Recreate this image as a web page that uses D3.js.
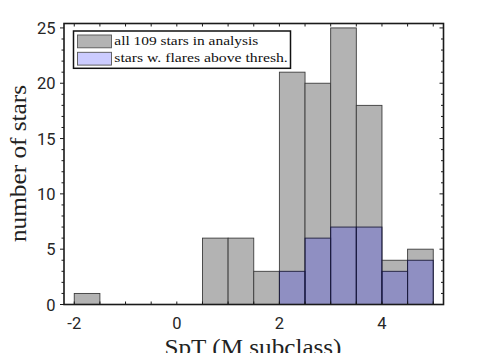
<!DOCTYPE html>
<html>
<head>
<meta charset="utf-8">
<script src="https://cdn.jsdelivr.net/npm/d3@7"></script>
<style>
  html, body { margin: 0; padding: 0; background: #fff; }
  svg { display: block; }
</style>
</head>
<body>
<svg id="chart" width="491" height="353"></svg>
<script>
// ---- data ----
const binStarts = [-2, -1.5, -1, -0.5, 0, 0.5, 1, 1.5, 2, 2.5, 3, 3.5, 4, 4.5];
const binWidth = 0.5;
const allCounts = [1, 0, 0, 0, 0, 6, 6, 3, 21, 20, 25, 18, 4, 5];
const flareCounts = [0, 0, 0, 0, 0, 0, 0, 0, 3, 6, 7, 7, 3, 4];
const xTickLabels = [-2, 0, 2, 4];
const yTickLabels = [0, 5, 10, 15, 20, 25];
const legendLabels = ["all 109 stars in analysis", "stars w. flares above thresh."];
const xLabel = "SpT (M subclass)";
const yLabel = "number of stars";

// ---- layout ----
const L = 64, R = 443.5, T = 23.5, B = 304.5;
const svg = d3.select("#chart");
const x = d3.scaleLinear().domain([-2.2, 5.2]).range([L, R]);
const y = d3.scaleLinear().domain([0, 25.4]).range([B, T]);

const allData = binStarts.map((s, i) => ({ s, v: allCounts[i] }));
const flareData = binStarts.map((s, i) => ({ s, v: flareCounts[i] }));

// gray bars
svg.append("g").selectAll("rect").data(allData.filter(d => d.v > 0)).join("rect")
  .attr("x", d => x(d.s))
  .attr("width", d => x(d.s + binWidth) - x(d.s))
  .attr("y", d => y(d.v))
  .attr("height", d => y(0) - y(d.v))
  .attr("fill", "#b3b3b3")
  .attr("stroke", "#3c3c3c")
  .attr("stroke-width", 0.9);

// blue bars (translucent)
svg.append("g").selectAll("rect").data(flareData.filter(d => d.v > 0)).join("rect")
  .attr("x", d => x(d.s))
  .attr("width", d => x(d.s + binWidth) - x(d.s))
  .attr("y", d => y(d.v))
  .attr("height", d => y(0) - y(d.v))
  .attr("fill", "rgb(0,0,255)")
  .attr("fill-opacity", 0.2)
  .attr("stroke", "#1c1c3c")
  .attr("stroke-width", 0.9);

// ---- axes box ----
const axisColor = "#1a1a1a";
const xTicksAll = d3.range(-2, 5.01, 0.5);
const yTicksAll = d3.range(0, 25.01, 1);
const tk = svg.append("g").attr("stroke", axisColor).attr("stroke-width", 1);
// bottom & top ticks (inward)
xTicksAll.forEach(v => {
  tk.append("line").attr("x1", x(v)).attr("x2", x(v)).attr("y1", B).attr("y2", B - 3);
  tk.append("line").attr("x1", x(v)).attr("x2", x(v)).attr("y1", T).attr("y2", T + 3);
});
// left ticks (outward) & right ticks (inward)
yTicksAll.forEach(v => {
  const major = v % 5 === 0;
  const len = major ? 4 : 2.5;
  tk.append("line").attr("x1", L - len).attr("x2", L).attr("y1", y(v)).attr("y2", y(v));
  tk.append("line").attr("x1", R - len).attr("x2", R).attr("y1", y(v)).attr("y2", y(v));
});

svg.append("rect")
  .attr("x", L).attr("y", T).attr("width", R - L).attr("height", B - T)
  .attr("fill", "none").attr("stroke", axisColor).attr("stroke-width", 1.6);

// tick labels
svg.append("g").selectAll("text").data(xTickLabels).join("text")
  .attr("x", d => x(d)).attr("y", 328.5)
  .attr("text-anchor", "middle")
  .attr("font-family", "Roboto, 'Noto Sans', sans-serif")
  .attr("font-size", 16.5).attr("fill", "#262626")
  .text(d => d);

svg.append("g").selectAll("text").data(yTickLabels).join("text")
  .attr("x", 55.5).attr("y", d => y(d) + 6)
  .attr("text-anchor", "end")
  .attr("font-family", "Roboto, 'Noto Sans', sans-serif")
  .attr("font-size", 16.5).attr("fill", "#262626")
  .text(d => d);

// axis labels
svg.append("text")
  .attr("x", 253).attr("y", 355)
  .attr("text-anchor", "middle")
  .attr("font-family", "'Liberation Serif', 'DejaVu Serif', serif")
  .attr("font-size", 24).attr("fill", "#222")
  .attr("textLength", 177).attr("lengthAdjust", "spacingAndGlyphs")
  .text(xLabel);

svg.append("text")
  .attr("transform", "translate(26,163.5) rotate(-90)")
  .attr("text-anchor", "middle")
  .attr("font-family", "'Liberation Serif', 'DejaVu Serif', serif")
  .attr("font-size", 24).attr("fill", "#222")
  .attr("textLength", 157).attr("lengthAdjust", "spacingAndGlyphs")
  .text(yLabel);

// ---- legend ----
const lg = svg.append("g");
lg.append("rect")
  .attr("x", 73.5).attr("y", 31).attr("width", 217).attr("height", 37.3)
  .attr("fill", "#fff").attr("stroke", "#111").attr("stroke-width", 1.5);
const rows = [
  { fill: "#b3b3b3", top: 35, base: 44.5, stroke: "#555" },
  { fill: "#ccccff", top: 52.3, base: 61.5, stroke: "#555" }
];
rows.forEach((r, i) => {
  lg.append("rect").attr("x", 77.5).attr("y", r.top).attr("width", 34).attr("height", 12.8)
    .attr("fill", r.fill).attr("stroke", r.stroke).attr("stroke-width", 0.9);
  const len = i === 0 ? 144 : 173.5;
  lg.append("text").attr("x", 114.3).attr("y", r.base)
    .attr("font-family", "'Liberation Serif', 'DejaVu Serif', serif")
    .attr("font-size", 13.5).attr("fill", "#111")
    .attr("textLength", len).attr("lengthAdjust", "spacingAndGlyphs")
    .text(legendLabels[i]);
});
</script>
</body>
</html>
